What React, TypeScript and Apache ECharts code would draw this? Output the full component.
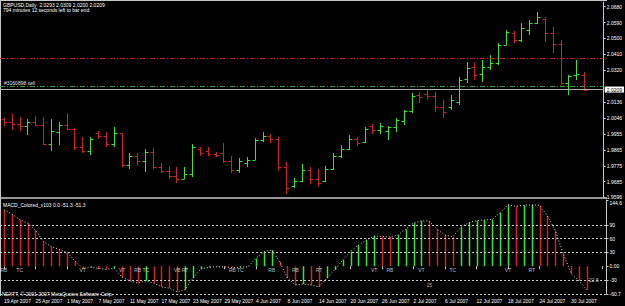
import React, { useEffect, useRef } from "react";
import * as echarts from "echarts";

const DATES = [
  "19 Apr 2007","20 Apr 2007","23 Apr 2007","24 Apr 2007","25 Apr 2007","26 Apr 2007","27 Apr 2007","30 Apr 2007",
  "1 May 2007","2 May 2007","3 May 2007","4 May 2007","7 May 2007","8 May 2007","9 May 2007","10 May 2007","11 May 2007",
  "14 May 2007","15 May 2007","16 May 2007","17 May 2007","18 May 2007","21 May 2007","22 May 2007","23 May 2007",
  "24 May 2007","25 May 2007","28 May 2007","29 May 2007","30 May 2007","31 May 2007",
  "1 Jun 2007","4 Jun 2007","5 Jun 2007","6 Jun 2007","7 Jun 2007","8 Jun 2007","11 Jun 2007","12 Jun 2007","13 Jun 2007",
  "14 Jun 2007","15 Jun 2007","18 Jun 2007","19 Jun 2007","20 Jun 2007","21 Jun 2007","22 Jun 2007","25 Jun 2007",
  "26 Jun 2007","27 Jun 2007","28 Jun 2007","29 Jun 2007",
  "2 Jul 2007","3 Jul 2007","4 Jul 2007","5 Jul 2007","6 Jul 2007","9 Jul 2007","10 Jul 2007","11 Jul 2007","12 Jul 2007",
  "13 Jul 2007","16 Jul 2007","17 Jul 2007","18 Jul 2007","19 Jul 2007","20 Jul 2007","23 Jul 2007","24 Jul 2007",
  "25 Jul 2007","26 Jul 2007","27 Jul 2007","30 Jul 2007","31 Jul 2007","1 Aug 2007"
];
// empty slots on the right (chart shift)
const SHIFT = ["", ""];

const OPEN = [
  2.0040,2.0025,2.0015,2.0000,2.0025,2.0010,1.9900,1.9965,2.0010,1.9985,
  1.9880,1.9860,1.9960,1.9945,1.9900,1.9960,1.9780,1.9830,1.9800,1.9855,
  1.9770,1.9745,1.9720,1.9700,1.9730,1.9870,1.9860,1.9845,1.9850,1.9800,
  1.9750,1.9790,1.9810,1.9920,1.9945,1.9925,1.9770,1.9660,1.9690,1.9750,
  1.9700,1.9690,1.9755,1.9830,1.9870,1.9925,1.9910,2.0000,1.9980,1.9975,
  1.9995,2.0030,2.0085,2.0180,2.0185,2.0175,2.0110,2.0110,2.0140,2.0270,
  2.0335,2.0300,2.0340,2.0360,2.0465,2.0530,2.0490,2.0545,2.0590,2.0610,
  2.0530,2.0470,2.0245,2.0290,2.0293
];
const HIGH = [
  2.0050,2.0070,2.0053,2.0041,2.0058,2.0053,2.0041,2.0024,2.0075,1.9990,
  1.9939,1.9939,1.9973,1.9967,1.9996,1.9962,1.9848,1.9848,1.9871,1.9876,
  1.9791,1.9774,1.9768,1.9768,1.9899,1.9882,1.9882,1.9854,1.9905,1.9831,
  1.9820,1.9825,1.9933,1.9967,1.9956,1.9939,1.9797,1.9706,1.9785,1.9768,
  1.9757,1.9774,1.9848,1.9893,1.9950,1.9939,1.9996,2.0013,2.0018,2.0001,
  2.0047,2.0093,2.0189,2.0195,2.0206,2.0195,2.0149,2.0178,2.0280,2.0365,
  2.0365,2.0377,2.0405,2.0473,2.0547,2.0542,2.0587,2.0604,2.0650,2.0621,
  2.0565,2.0491,2.0292,2.0377,2.0309
];
const LOW = [
  2.0000,1.9979,1.9973,1.9950,2.0001,1.9893,1.9859,1.9893,1.9979,1.9865,
  1.9848,1.9836,1.9928,1.9882,1.9882,1.9768,1.9757,1.9780,1.9740,1.9757,
  1.9734,1.9700,1.9677,1.9700,1.9711,1.9831,1.9831,1.9825,1.9791,1.9734,
  1.9734,1.9768,1.9808,1.9910,1.9905,1.9745,1.9614,1.9649,1.9683,1.9671,
  1.9655,1.9683,1.9751,1.9819,1.9865,1.9888,1.9905,1.9956,1.9956,1.9922,
  1.9967,2.0007,2.0075,2.0132,2.0149,2.0081,2.0047,2.0093,2.0121,2.0246,
  2.0263,2.0252,2.0320,2.0348,2.0462,2.0473,2.0479,2.0519,2.0582,2.0479,
  2.0417,2.0235,2.0178,2.0263,2.0200
];
const CLOSE = [
  2.0025,2.0015,2.0000,2.0025,2.0010,1.9900,1.9975,2.0005,1.9985,1.9880,
  1.9860,1.9925,1.9945,1.9900,1.9960,1.9780,1.9830,1.9800,1.9855,1.9770,
  1.9745,1.9720,1.9700,1.9730,1.9880,1.9850,1.9845,1.9838,1.9800,1.9750,
  1.9800,1.9810,1.9920,1.9945,1.9925,1.9770,1.9650,1.9690,1.9750,1.9700,
  1.9680,1.9755,1.9830,1.9870,1.9930,1.9905,1.9985,1.9980,2.0000,1.9995,
  2.0035,2.0085,2.0175,2.0165,2.0170,2.0110,2.0080,2.0150,2.0265,2.0330,
  2.0290,2.0340,2.0360,2.0460,2.0535,2.0490,2.0560,2.0590,2.0620,2.0530,
  2.0470,2.0245,2.0285,2.0300,2.0209
];

const MACD = [
  123,114,102,94,79,54,43,37,30,12,
  -5,-2.5,-4.7,-7,-4.7,-24,-32,-37,-32,-37,
  -45,-48,-56,-51,-26,-6,-2.5,-1,-1.5,-3,
  -2.5,-1,17,32,35,10,-26,-41,-39,-41,
  -45,-26,-8,13.5,32,46,57,66,65,64,
  68,80.5,94,99,98.5,80.5,68,64.5,85,95,
  99.4,101,102.3,117,134,131,133,134,133,110,
  78,28,-16,-32,-51.3
];

const PRICE_TICKS = [2.068, 2.059, 2.05, 2.041, 2.032, 2.0136, 2.0046, 1.9955, 1.9865, 1.9775, 1.9685, 1.9596];
const PRICE_MIN = 1.9596;
const PRICE_MAX = 2.0707;
const STOP_LINE = 2.0388;
const ORDER_LINE = 2.0229;

const MACD_MIN = -60.7;
const MACD_MAX = 144.6;
const MACD_TICKS = [144.6, 90, 60, 30, 0, -30, -60.7];
const MACD_LEVELS = [90, 60, 30, -30, -60.7];

const SIG_INDEX = [0, 2, 10, 15, 17, 18, 22, 23, 29, 30, 34, 37, 40, 47, 49, 53, 57, 64, 67, 54, 74];
const SIG_TEXT = ["RB","TC","VT","VT","RB","TC","VB","RT","RB","TC","RB","RB","RT","VT","RB","VT","TC","VT","RT","15","22.5"];
const SIG_VALUE = [-8,-8,-8,-8,-8,-8,-8,-8,-8,-8,-8,-8,-8,-8,-8,-8,-8,-8,-8,-41,-30];

const HEADER = "GBPUSD,Daily  2.0293 2.0309 2.0200 2.0209";
const TIMER = "794 minutes 12 seconds left to bar end";
const ORDER_TEXT = "#3160898 sell";
const MACD_TITLE = "MACD_Colored_v103 0.0 -51.3 -51.3";
const COPYRIGHT = "NEXTT, © 2001-2007 MetaQuotes Software Corp.";

const GREEN = "#30e830";
const RED = "#d42020";
const AXIS = "#c8c8c8";
const FONT = "Liberation Sans";
const FS = 5;

export default function App() {
  const ref = useRef<HTMLDivElement>(null);
  useEffect(() => {
    if (!ref.current) return;
    const chart = echarts.init(ref.current, null, { renderer: "svg" });
    const cats = DATES.concat(SHIFT);
    const ohlc = DATES.map((_, i) => [i, OPEN[i], HIGH[i], LOW[i], CLOSE[i]]);
    const hist = MACD.map((v, i) => [i, v, i === 0 ? -1 : v - MACD[i - 1]]);
    const bid = CLOSE[CLOSE.length - 1];

    const option: any = {
      animation: false,
      backgroundColor: "#000",
      textStyle: { fontFamily: FONT },
      grid: [
        { left: -3, top: 2, width: 610.6, height: 195.3 },
        { left: -3, top: 200, width: 610.6, height: 94 },
      ],
      xAxis: [
        {
          type: "category", gridIndex: 0, data: cats,
          axisLine: { show: false }, axisTick: { show: false }, axisLabel: { show: false }, splitLine: { show: false },
        },
        {
          type: "category", gridIndex: 1, data: cats,
          axisLine: { show: false },
          axisTick: { show: true, interval: 3, length: 3, alignWithLabel: true, lineStyle: { color: AXIS } },
          axisLabel: { interval: 3, align: "left", fontSize: FS, color: "#fff", margin: 4, fontFamily: FONT },
          splitLine: { show: false },
        },
      ],
      yAxis: [
        {
          type: "value", gridIndex: 0, position: "right", min: PRICE_MIN, max: PRICE_MAX,
          axisLine: { show: true, lineStyle: { color: AXIS } },
          axisTick: { show: true, length: 2, customValues: PRICE_TICKS, lineStyle: { color: AXIS } },
          axisLabel: {
            customValues: PRICE_TICKS, fontSize: FS, color: "#fff", margin: 3, fontFamily: FONT,
            formatter: (v: number) => v.toFixed(4),
          },
          splitLine: { show: false },
        },
        {
          type: "value", gridIndex: 1, position: "right", min: MACD_MIN, max: MACD_MAX,
          axisLine: { show: true, lineStyle: { color: AXIS } },
          axisTick: { show: true, length: 2, customValues: MACD_TICKS, lineStyle: { color: AXIS } },
          axisLabel: {
            customValues: MACD_TICKS, fontSize: FS, color: "#fff", margin: 3, fontFamily: FONT,
            formatter: (v: number) => (v === MACD_MAX ? "{t|" + v.toFixed(1) + "}" : v === 0 ? "0.00" : String(v)),
            rich: { t: { fontSize: FS, color: "#fff", fontFamily: FONT, padding: [6, 0, 0, 0] } },
          },
          splitLine: { show: false },
        },
      ],
      series: [
        {
          type: "custom", xAxisIndex: 0, yAxisIndex: 0, data: ohlc, encode: { x: 0, y: [1, 2, 3, 4] },
          renderItem: (params: any, api: any) => {
            const i = api.value(0);
            const o = api.value(1), h = api.value(2), l = api.value(3), c = api.value(4);
            const pH = api.coord([i, h]);
            const pL = api.coord([i, l]);
            const pO = api.coord([i, o]);
            const pC = api.coord([i, c]);
            const x = Math.round(pH[0]) + 0.5;
            const col = c >= o ? GREEN : RED;
            const st = { stroke: col, lineWidth: 1 };
            return {
              type: "group",
              children: [
                { type: "line", shape: { x1: x, y1: pH[1], x2: x, y2: pL[1] }, style: st },
                { type: "line", shape: { x1: x - 3, y1: Math.round(pO[1]) + 0.5, x2: x, y2: Math.round(pO[1]) + 0.5 }, style: st },
                { type: "line", shape: { x1: x, y1: Math.round(pC[1]) + 0.5, x2: x + 3, y2: Math.round(pC[1]) + 0.5 }, style: st },
              ],
            };
          },
        },
        {
          type: "line", xAxisIndex: 0, yAxisIndex: 0, data: [], silent: true,
          markLine: {
            silent: true, symbol: ["none", "none"], precision: 4,
            data: [
              { yAxis: STOP_LINE, lineStyle: { color: "#c02020", type: [5, 2, 1, 2], width: 1 }, label: { show: false } },
              { yAxis: ORDER_LINE, lineStyle: { color: "#30a030", type: [5, 2, 1, 2], width: 1 }, label: { show: false } },
              {
                yAxis: bid, lineStyle: { color: "#b0b0b0", type: "solid", width: 1 },
                label: {
                  show: true, position: "end", formatter: bid.toFixed(4), distance: 1,
                  backgroundColor: "#fff", color: "#000", fontSize: FS, fontFamily: FONT, padding: [1, 2, 0, 2],
                },
              },
            ],
          },
        },
        {
          type: "custom", xAxisIndex: 1, yAxisIndex: 1, data: hist, encode: { x: 0, y: 1 },
          renderItem: (params: any, api: any) => {
            const i = api.value(0);
            const v = api.value(1);
            const d = api.value(2);
            const p0 = api.coord([i, 0]);
            const p1 = api.coord([i, v]);
            const x = Math.round(p0[0]) + 0.5;
            return {
              type: "line",
              shape: { x1: x, y1: p0[1], x2: x, y2: p1[1] },
              style: { stroke: d > 0 ? GREEN : RED, lineWidth: 1.5 },
            };
          },
        },
        {
          type: "line", xAxisIndex: 1, yAxisIndex: 1, data: MACD, symbol: "none", silent: true,
          lineStyle: { color: "#d8d8d8", width: 1, type: [1, 2] },
          markLine: {
            silent: true, symbol: ["none", "none"], label: { show: false }, precision: 2,
            lineStyle: { color: "#c8c8c8", type: [2, 2], width: 1 },
            data: MACD_LEVELS.map((v) => ({ yAxis: v })),
          },
        },
        {
          type: "scatter", xAxisIndex: 1, yAxisIndex: 1, symbolSize: 0, silent: true,
          data: SIG_INDEX.map((idx, k) => ({
            value: [idx, SIG_VALUE[k]],
            label: SIG_TEXT[k] === "22.5" ? { offset: [7, 0] } : undefined,
          })),
          label: {
            show: true, position: "inside", fontSize: FS, color: "#e8e8e8", fontFamily: FONT,
            formatter: (p: any) => SIG_TEXT[p.dataIndex],
          },
        },
      ],
      graphic: [
        { type: "line", shape: { x1: 0, y1: 0.5, x2: 607, y2: 0.5 }, style: { stroke: AXIS, lineWidth: 1 } },
        { type: "line", shape: { x1: 0.5, y1: 0, x2: 0.5, y2: 296 }, style: { stroke: AXIS, lineWidth: 1 } },
        { type: "line", shape: { x1: 0, y1: 198, x2: 607, y2: 198 }, style: { stroke: AXIS, lineWidth: 1.5 } },
        { type: "text", left: 3, top: 2.5, style: { text: HEADER, fill: "#fff", fontSize: FS, fontFamily: FONT } },
        { type: "text", left: 3, top: 7.5, style: { text: TIMER, fill: "#fff", fontSize: FS, fontFamily: FONT } },
        { type: "text", left: 4, top: 80, style: { text: ORDER_TEXT, fill: "#e0e0e0", fontSize: FS, fontFamily: FONT } },
        { type: "text", left: 3, top: 202, style: { text: MACD_TITLE, fill: "#fff", fontSize: FS, fontFamily: FONT } },
        { type: "text", left: 2, top: 291.5, style: { text: COPYRIGHT, fill: "#fff", fontSize: FS, fontFamily: FONT, backgroundColor: "#000" } },
      ],
    };
    chart.setOption(option);
    return () => chart.dispose();
  }, []);
  return (
    <div
      ref={ref}
      style={{ position: "absolute", left: 0, top: 0, width: 625, height: 306, background: "#000" }}
    />
  );
}
